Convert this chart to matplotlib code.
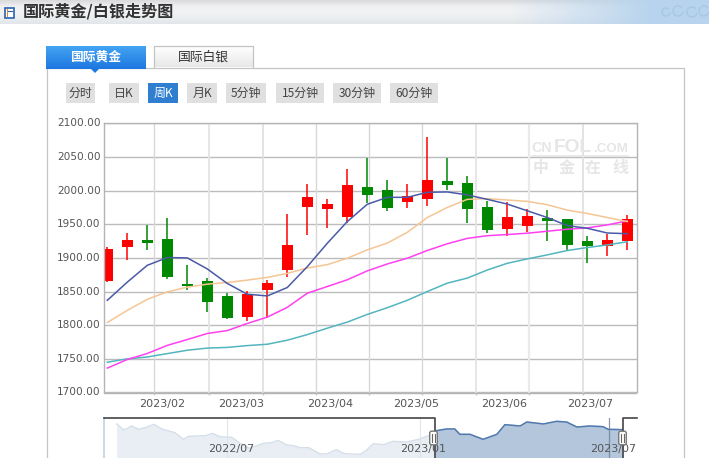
import numpy as np
import matplotlib
matplotlib.use("Agg")
import matplotlib.pyplot as plt
from matplotlib.patches import Rectangle, FancyBboxPatch, Polygon
from matplotlib.transforms import blended_transform_factory

plt.rcParams['font.family'] = ['Noto Sans CJK SC', 'DejaVu Sans']

highs = [1916,1937,1949,1959.5,1890,1870,1847.5,1850.5,1867.4,1965.4,2010,1987.6,2032,2048.5,2016,2010,2080,2048.5,2021.8,1984.7,1983,1972.8,1971.3,1958,1932.7,1935.7,1964]
lows = [1864,1897,1912,1869,1853,1819.6,1808.6,1805.6,1810,1871.8,1934,1944.6,1952,1981.7,1970,1974,1977,2001,1952,1937,1932.7,1938.6,1925,1910.4,1892.6,1903,1912]
tops = [1913.4,1926.7,1926.7,1928,1861,1865.5,1843,1846,1863,1919.3,1990.6,1980,2008.4,2005.5,2001,1992,2016,2014.4,2011.4,1975.8,1961,1962.4,1959.4,1958,1925.3,1926.7,1958]
bottoms = [1865.9,1916.4,1922.3,1872,1858,1834.5,1810,1811.6,1852,1882,1975.8,1972.8,1961,1993.6,1974.3,1983,1987.6,2008.4,1972.8,1941.6,1943,1947.5,1955,1919.3,1917.8,1917.8,1925.3]
rising = [1,1,0,0,0,0,0,1,1,1,1,1,1,0,0,1,1,0,0,0,1,1,0,0,0,1,1]

ma5 = [1837,1864,1889,1900.5,1900,1883.6,1862,1846,1843.5,1856,1887,1921.8,1954,1979.7,1990,1990,1997.5,1998,1993.6,1987,1980,1970,1960,1948,1944,1937,1936]
ma10 = [1804,1822,1838.5,1849.5,1856.5,1861,1863.5,1867,1871,1877,1885,1890,1899.5,1912,1922,1938,1960,1975,1987,1988,1986,1984,1979,1971,1966,1960,1954]
ma20 = [1736.3,1749,1758,1770,1778.7,1787.7,1792,1802.6,1812,1826.6,1847.5,1857.5,1867.5,1880.7,1891,1899.5,1911,1921,1929,1933,1934.7,1936.7,1939.6,1942.6,1944.6,1949,1955]
ma30 = [1745,1750,1752.8,1757.8,1762.8,1766,1767,1769.7,1771.7,1777.7,1786,1795.6,1804.6,1816,1826,1837,1850,1862.5,1870,1882,1892,1898.5,1904.5,1911,1915.4,1919.3,1924]

y_ticks = [1700,1750,1800,1850,1900,1950,2000,2050,2100]
grid_pos = [2.35,5.085,7.77,10.45,13.1,15.75,18.45,21.085,23.77]
month_pos = [2.735,6.685,11.135,15.435,19.835,24.135]
month_labels = ['2023/02','2023/03','2023/04','2023/05','2023/06','2023/07']

nav_weeks = [0,1,2.06,3,4.1,5.1,6.2,8,9.2,9.9,12.2,13.2,14.2,15.8,17,18.3,20.2,21.3,22.2,23.4,24.3,25.2,26.4,28,28.9,30.2,31.2,32.1,33.5,34.4,35.3,36.7,38,39.9,41.7,43.1,44,45.4,46.5,47.2,48.6,50.4,52.3,53.4,55.5,56.4,58.7,60.5,61.9,63.3,65.1,66.9,67.6,69.6]
nav_price = [1980,1911,1957,1919,1942,1976,1923,1881,1805,1839,1847,1873,1835,1828,1759,1702,1759,1767,1793,1740,1733,1710,1710,1638,1638,1687,1645,1638,1634,1683,1755,1744,1782,1774,1809,1854,1904,1923,1923,1862,1862,1805,1862,1972,1957,2002,1980,2010,2002,1945,1957,1949,1919,1915]
nav_grid = [15.2,41.7,67.7]
nav_label_pos = [15.7,42.1,68.3]
nav_labels = ['2022/07','2023/01','2023/07']

buttons = ['分时','日K','周K','月K','5分钟','15分钟','30分钟','60分钟']
button_left = [66,109,148,187,226,276,333,390]
button_right = [95,139,178,217,266,324,381,438]

W, H = 709, 458
fig = plt.figure(figsize=(W/100, H/100), dpi=100, facecolor='white')
bg = fig.add_axes([0,0,1,1], zorder=0)
bg.set_xlim(0,W); bg.set_ylim(H,0); bg.axis('off')

# header band
rows = np.array([[.86,.86,.87],[.94,.94,.95],[.945,.95,.955],[.925,.935,.945],[.89,.905,.92]])
row_y = np.linspace(0,1,rows.shape[0])
yy = np.linspace(0,1,24)
base = np.stack([np.interp(yy,row_y,rows[:,i]) for i in range(3)],axis=1)
xx = np.linspace(0,1,W)
blend = np.clip((xx-0.72)/0.2,0,1)[None,:,None]
blue = np.array([.72,.83,.93])[None,None,:]
grad = base[:,None,:]*(1-blend)+blue*blend
bg.imshow(grad,extent=(0,W,24,0),aspect='auto',interpolation='bilinear',zorder=0)
bg.set_xlim(0,W); bg.set_ylim(H,0)
for cx,cy,r in [(666,12,4),(678,11,5),(692,12,5),(704,11,5)]:
    t = np.linspace(0.3,5.4,30)
    bg.plot(cx+r*np.cos(t),cy+r*np.sin(t),color='#a9c7e6',lw=1,zorder=1)

# icon
bg.add_patch(Rectangle((4.5,7.5),9,10,fc='#ffffff',ec='#2a62b0',lw=1.2,zorder=2))
bg.add_patch(Rectangle((6.5,8.5),1,8,fc='#e8862a',ec='none',zorder=3))
bg.plot([8,12],[11,11],color='#2a62b0',lw=.8,zorder=3)
bg.text(23,11.5,'国际黄金/白银走势图',fontsize=11.6,fontweight='bold',color='#333333',va='center',ha='left',zorder=3)

# panel
bg.plot([46.5,46.5,683.5,683.5],[H+2,67.5,67.5,H+2],color='#c4c4c4',lw=.9,zorder=1)

# tabs
g1 = np.linspace(0,1,23)[:,None,None]*(np.array([.12,.47,.88])[None,None,:]-np.array([.26,.64,.95])[None,None,:])+np.array([.26,.64,.95])[None,None,:]
bg.imshow(g1,extent=(46,146,69,46),aspect='auto',interpolation='bilinear',zorder=2)
bg.add_patch(Polygon([[90.5,68.5],[99.5,68.5],[95,73]],fc='#1f78e0',ec='none',zorder=2))
g2 = np.linspace(0,1,21)[:,None,None]*(-0.09)*np.ones((21,1,3))+1
bg.imshow(g2,extent=(153.5,252.5,67,46),aspect='auto',interpolation='bilinear',zorder=2)
bg.plot([153.5,153.5,252.5,252.5],[67,45.5,45.5,67],color='#c4c4c4',lw=.9,zorder=3)
bg.set_xlim(0,W); bg.set_ylim(H,0)
bg.text(96,57,'国际黄金',fontsize=9.2,fontweight='bold',color='white',ha='center',va='center',zorder=4)
bg.text(203,57,'国际白银',fontsize=9.2,color='#333333',ha='center',va='center',zorder=4)

# period buttons
for lab,l,r in zip(buttons,button_left,button_right):
    active = lab=='周K'
    bg.add_patch(Rectangle((l,83),r-l,20,fc='#2f7ecf' if active else '#e0e0e0',ec='none',zorder=2))
    bg.text((l+r)/2,93,lab,fontsize=8.6,color='white' if active else '#444444',ha='center',va='center',zorder=3)

# main chart
L,R,T,B = 103.5,636.5,123.3,392.5
ax = fig.add_axes([L/W,1-B/H,(R-L)/W,(B-T)/H],zorder=2)
ax.set_xlim((L-107.3)/20,(R-107.3)/20)
ax.set_ylim(1700,2100)
ax.set_axisbelow(True)
ax.set_yticks(y_ticks)
ax.set_yticklabels([f'{v:.2f}' for v in y_ticks],fontsize=7.6,color='#555555',va='center',fontfamily='DejaVu Sans')
ax.set_xticks(grid_pos)
ax.set_xticklabels([])
ax.grid(axis='y',color='#bcbcbc',lw=1)
for g,c,w in zip(grid_pos,['#d8d8d8','#e4e4e4','#e0e0e0','#d8d8d8','#d8d8d8','#d8d8d8','#e4e4e4','#eaeaea','#e0e0e0'],[1,1.3,1.3,1,1,1,1.3,1.6,1.3]):
    ax.axvline(g,color=c,lw=w,zorder=0.6)
ax.tick_params(axis='x',length=1.5,color='#c8c8c8',width=1)
ax.tick_params(axis='y',length=0,pad=2)
for s in ax.spines.values():
    s.set_color('#b4b4b4'); s.set_linewidth(1)

# watermark
wm = '#e6e6e6'
ax.text(531.5,152.5,'CN',transform=bg.transData,fontsize=10.3,fontweight='bold',color=wm,ha='left',va='baseline',zorder=0.7,fontfamily='Liberation Sans')
ax.text(553.5,152.5,'FOL',transform=bg.transData,fontsize=13.8,fontweight='bold',color=wm,ha='left',va='baseline',zorder=0.7,fontfamily='Liberation Sans')
ax.text(593,152.5,'.COM',transform=bg.transData,fontsize=9.6,fontweight='bold',color=wm,ha='left',va='baseline',zorder=0.7,fontfamily='Liberation Sans')
ax.plot([532,628],[155.5,155.5],transform=bg.transData,color=wm,lw=1.2,zorder=0.7)
for cx,ch in zip([541,567,593,620],'中金在线'):
    ax.text(cx,168,ch,transform=bg.transData,fontsize=11.5,fontweight='bold',color=wm,ha='center',va='center',zorder=0.7)

x = np.arange(len(tops))
cols = ['#ff0000' if r else '#008800' for r in rising]
ax.vlines(x,lows,highs,colors=cols,lw=1.1,zorder=2)
ax.bar(x,np.array(tops)-np.array(bottoms),bottom=bottoms,width=0.55,color=cols,lw=0,zorder=2.1)
ax.plot(x,ma30,color='#52b5bf',lw=1.1,zorder=3)
ax.plot(x,ma20,color='#ff40f0',lw=1.1,zorder=3)
ax.plot(x,ma10,color='#f5c593',lw=1.1,zorder=3)
ax.plot(x,ma5,color='#4a5aa8',lw=1.1,zorder=3)
label_tr = blended_transform_factory(ax.transData,bg.transData)
for p,lab in zip(month_pos,month_labels):
    ax.text(p,403.5,lab,transform=label_tr,fontsize=8,color='#555555',ha='center',va='center',clip_on=False,fontfamily='DejaVu Sans')

# navigator
NT,NB = 418,H
nav = fig.add_axes([L/W,0,(R-L)/W,(NB-NT)/H],zorder=3)
nav.set_xlim((L-116.7)/7.27,(R-116.7)/7.27)
nav.set_ylim(1592,2048)
nav.axis('off')
nav.patch.set_alpha(0)
nx,np_ = np.array(nav_weeks),np.array(nav_price)
nav.fill_between(nx,1592,np_,color='#e9eef4',lw=0,zorder=1)
nav.plot(nx,np_,color='#d5dfea',lw=1,zorder=1.2)
s0,s1 = (434.5-116.7)/7.27,(622.7-116.7)/7.27
clip = Rectangle((s0,1592),s1-s0,456,transform=nav.transData)
f = nav.fill_between(nx,1592,np_,color='#b4c6dc',lw=0,zorder=2); f.set_clip_path(clip)
l, = nav.plot(nx,np_,color='#4f78ae',lw=1.1,zorder=2.2); l.set_clip_path(clip)
for g in nav_grid:
    nav.axvline(g,color='#6f7f93' if g>60 else '#dde2e8',lw=.9,alpha=.8,zorder=1.5 if g<60 else 2.5)
nx0,nx1 = nav.get_xlim()
nav.plot([nx0,s0,s0],[2046,2046,1592],color='#444444',lw=1.2,zorder=3,clip_on=False)
nav.plot([nx1,s1,s1],[2046,2046,1592],color='#444444',lw=1.2,zorder=3,clip_on=False)
nav.plot([nx0,nx0],[1592,2046],color='#c3cfe0',lw=1.2,zorder=2.9,clip_on=False)
for p,lab in zip(nav_label_pos,nav_labels):
    nav.text(p,1690,lab,fontsize=8,color='#555555',ha='center',va='center',zorder=5,fontfamily='DejaVu Sans')

# handles
hb = fig.add_axes([0,0,1,1],zorder=4); hb.set_xlim(0,W); hb.set_ylim(H,0); hb.axis('off'); hb.patch.set_alpha(0)
for hx in [433.5,622.5]:
    hb.add_patch(FancyBboxPatch((hx-3,432),6,12,boxstyle='round,pad=0.8,rounding_size=2',fc='white',ec='#777777',lw=1))
    hb.plot([hx-1.2,hx-1.2],[434,442],color='#666666',lw=.8)
    hb.plot([hx+1.2,hx+1.2],[434,442],color='#666666',lw=.8)

fig.savefig('out.png',dpi=100)
